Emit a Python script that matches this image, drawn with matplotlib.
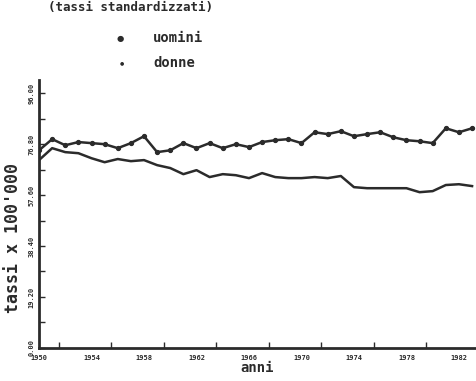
import matplotlib
matplotlib.use("Agg")
import matplotlib.pyplot as plt
import numpy as np

years = list(range(1950, 1984))
uomini = [74.5, 78.7, 76.4, 77.6, 77.2, 76.8, 75.3, 77.2, 79.8, 73.8,
          74.5, 77.2, 75.3, 77.2, 75.3, 76.8, 75.7, 77.6, 78.3, 78.7,
          77.2, 81.3, 80.6, 81.7, 79.8, 80.6, 81.3, 79.4, 78.3, 77.9,
          77.2, 82.8, 81.3, 82.8]
donne = [70.8, 75.3, 73.8, 73.4, 71.5, 70.0, 71.2, 70.4, 70.8, 68.9,
         67.8, 65.5, 67.0, 64.4, 65.5, 65.1, 64.0, 65.9, 64.4, 64.0,
         64.0, 64.4, 64.0, 64.8, 60.6, 60.2, 60.2, 60.2, 60.2, 58.7,
         59.1, 61.4, 61.7, 61.0]

x_ticks = [1950, 1954, 1958, 1962, 1966, 1970, 1974, 1978, 1982]
y_ticks = [0.0, 19.2, 38.4, 57.6, 76.8, 96.0]
y_labels = ["0.00", "19.20", "38.40", "57.60", "76.80", "96.00"]

ink = "#2b2b2b"
mono = "DejaVu Sans Mono"

fig = plt.figure(figsize=(4.76, 3.81), dpi=100)
ax = fig.add_axes([0.082, 0.087, 0.918, 0.703])

ax.plot(years, uomini, color=ink, lw=1.8, marker="o", ms=2.8)
ax.plot(years, donne, color=ink, lw=1.8)

ax.set_xlim(1950, 1983.3)
ax.set_ylim(0, 101)
ax.set_xticks(x_ticks)
ax.set_xticklabels([str(y) for y in x_ticks], fontsize=5, family=mono,
                   fontweight="bold", color=ink)
ax.set_xticks([y + 1.5 for y in x_ticks[:-1]], minor=True)
ax.set_yticks(y_ticks)
ax.set_yticklabels(y_labels, fontsize=5, family=mono, fontweight="bold",
                   color=ink, rotation=90, va="center")
ax.set_yticks([y + 9.6 for y in y_ticks[:-1]], minor=True)
ax.tick_params(axis="x", which="major", length=0, pad=5)
ax.tick_params(axis="y", which="major", direction="in", length=4,
               width=1, color=ink, pad=3)
ax.tick_params(which="minor", direction="in", length=4, width=1, color=ink)

for side in ["top", "right"]:
    ax.spines[side].set_visible(False)
for side in ["left", "bottom"]:
    ax.spines[side].set_color(ink)
    ax.spines[side].set_linewidth(2)

ax.set_xlabel("anni", family=mono, fontweight="bold", fontsize=10,
              color=ink, labelpad=0)
fig.text(0.027, 0.375, "tassi x 100'000", rotation=90, family=mono,
         fontweight="bold", fontsize=12, color=ink, ha="center", va="center")

# titolo in alto
fig.text(0.1, 0.998, "(tassi standardizzati)", family=mono,
         fontweight="bold", fontsize=9, color=ink, ha="left", va="top")

# legenda
fig.text(0.252, 0.900, "\u25CF", fontsize=6, color=ink, ha="center",
         va="center")
fig.text(0.322, 0.900, "uomini", family=mono, fontweight="bold",
         fontsize=10, color=ink, ha="left", va="center")
fig.text(0.256, 0.835, "\u25CF", fontsize=3.5, color=ink, ha="center",
         va="center")
fig.text(0.322, 0.835, "donne", family=mono, fontweight="bold",
         fontsize=10, color=ink, ha="left", va="center")

fig.savefig("out.png", dpi=100)
